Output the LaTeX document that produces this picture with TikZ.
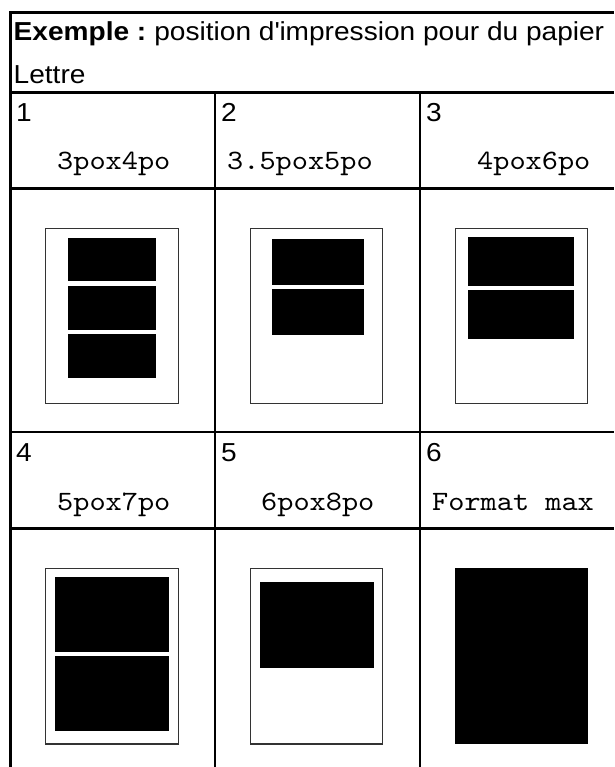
\documentclass[tikz,border=0pt]{standalone}
\usepackage{fontspec}
\setmainfont{Liberation Sans}[FakeStretch=1.08]
\newfontfamily\monofont{lmmono10-regular.otf}[FakeStretch=1.1]
\begin{document}
\begin{tikzpicture}[x=1pt,y=-1pt,
  tbl/.style={line width=2.2pt,black},
  paper/.style={draw=black!80,line width=1.3pt,fill=white},
  photo/.style={fill=black},
  lbl/.style={anchor=base west,inner sep=0pt,font=\fontsize{26}{30}\selectfont},
  size/.style={anchor=base west,inner sep=0pt,font=\monofont\fontsize{28}{30}\selectfont}]
\useasboundingbox (0,0) rectangle (614,767);
\clip (0,0) rectangle (614,767);
\fill[white] (0,0) rectangle (614,767);
% table rules
\draw[tbl] (10.5,767) -- (10.5,12.5) -- (614,12.5);
\draw[tbl] (10.5,92.5) -- (614,92.5);
\draw[tbl] (10.5,188.5) -- (614,188.5);
\draw[tbl] (10.5,432) -- (614,432);
\draw[tbl] (10.5,528.5) -- (614,528.5);
\draw[tbl] (215,92.5) -- (215,767);
\draw[tbl] (420,92.5) -- (420,767);
% header
\node[lbl] (h1) at (13.5,41) {\bfseries Exemple~:};
\node[lbl,anchor=base west] (h2) at ([xshift=7.6pt]h1.base east) {position d\textquotesingle impression pour du papier};
\node[lbl] (h3) at (13.5,84) {Lettre};
% labels row 1
\node[lbl] (n1) at (16,121.5) {1};
\node[lbl] (n2) at (221,121.5) {2};
\node[lbl] (n3) at (426,121.5) {3};
\node[size] (s1) at (57,170) {3pox4po};
\node[size] (s2) at (227,170) {3.5pox5po};
\node[size] (s3) at (477,170) {4pox6po};
% labels row 2
\node[lbl] (n4) at (16,461.5) {4};
\node[lbl] (n5) at (221,461.5) {5};
\node[lbl] (n6) at (426,461.5) {6};
\node[size] (s4) at (57,510.5) {5pox7po};
\node[size] (s5) at (261,510.5) {6pox8po};
\node[size] (s6) at (432,510.5) {Format max};
% row 1 pictures
\draw[paper] (45.8,228.3) rectangle (178.2,403.3);
\fill[photo] (68.1,237.5) rectangle (155.8,280.7);
\fill[photo] (68.1,286) rectangle (155.8,330);
\fill[photo] (68.1,334) rectangle (155.8,377.7);
\draw[paper] (250.6,228.3) rectangle (382.5,403.3);
\fill[photo] (272.1,239) rectangle (364.1,284.7);
\fill[photo] (272.1,289) rectangle (364.1,334.7);
\draw[paper] (455.4,228.3) rectangle (587.3,403.3);
\fill[photo] (467.9,237) rectangle (574,285.7);
\fill[photo] (467.9,290) rectangle (574,338.7);
% row 2 pictures
\draw[paper] (45.8,568.3) rectangle (178.2,744);
\fill[photo] (54.8,577) rectangle (169.1,651.7);
\fill[photo] (54.8,656) rectangle (169.1,730.7);
\draw[paper] (250.6,568.3) rectangle (382.5,744);
\fill[photo] (260,582) rectangle (373.9,667.7);
\fill[photo] (455,568) rectangle (588,744);
\end{tikzpicture}
\end{document}
